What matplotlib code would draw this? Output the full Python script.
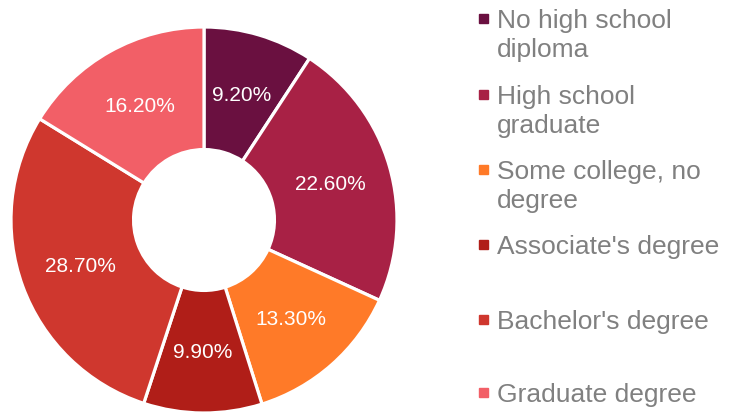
import matplotlib.pyplot as plt
from matplotlib.patches import Rectangle

plt.rcParams['font.family'] = ['Liberation Sans', 'DejaVu Sans']

categories = ["No high school\ndiploma", "High school\ngraduate", "Some college, no\ndegree",
              "Associate's degree", "Bachelor's degree", "Graduate degree"]
shares = [9.2, 22.6, 13.3, 9.9, 28.7, 16.2]
colors = ["#6a1040", "#a82145", "#ff7a28", "#b01e18", "#cf372e", "#f25f67"]

fig = plt.figure(figsize=(7.36, 4.14), dpi=100)
ax = fig.add_axes([11 / 736, 0 / 414, 386 / 736, 386 / 414])

wedges, texts = ax.pie(shares, colors=colors, startangle=90, counterclock=False,
                       radius=1.0, labels=[f"{v:.2f}%" for v in shares], labeldistance=0.68,
                       wedgeprops=dict(width=0.635, edgecolor='white', linewidth=2.3),
                       textprops=dict(color='white', fontsize=15))
for t in texts:
    t.set_ha('center')
    t.set_va('center')
ax.set_xlim(-1, 1)
ax.set_ylim(-1, 1)
ax.set_aspect('equal')
ax.axis('off')

# legend drawn by hand so each entry sits at a fixed spacing
W, H = 736, 414
ys = [19, 95, 170, 245, 320, 393]
for lab, col, y in zip(categories, colors, ys):
    fig.patches.append(Rectangle(((483 - 4.5) / W, 1 - (y + 4.5) / H), 9 / W, 9 / H,
                                 transform=fig.transFigure, color=col))
    fig.text(497 / W, 1 - (y - 10) / H, lab, ha='left', va='top', fontsize=19,
             color='#808080', linespacing=1.25)

fig.savefig('out.png', dpi=100)
